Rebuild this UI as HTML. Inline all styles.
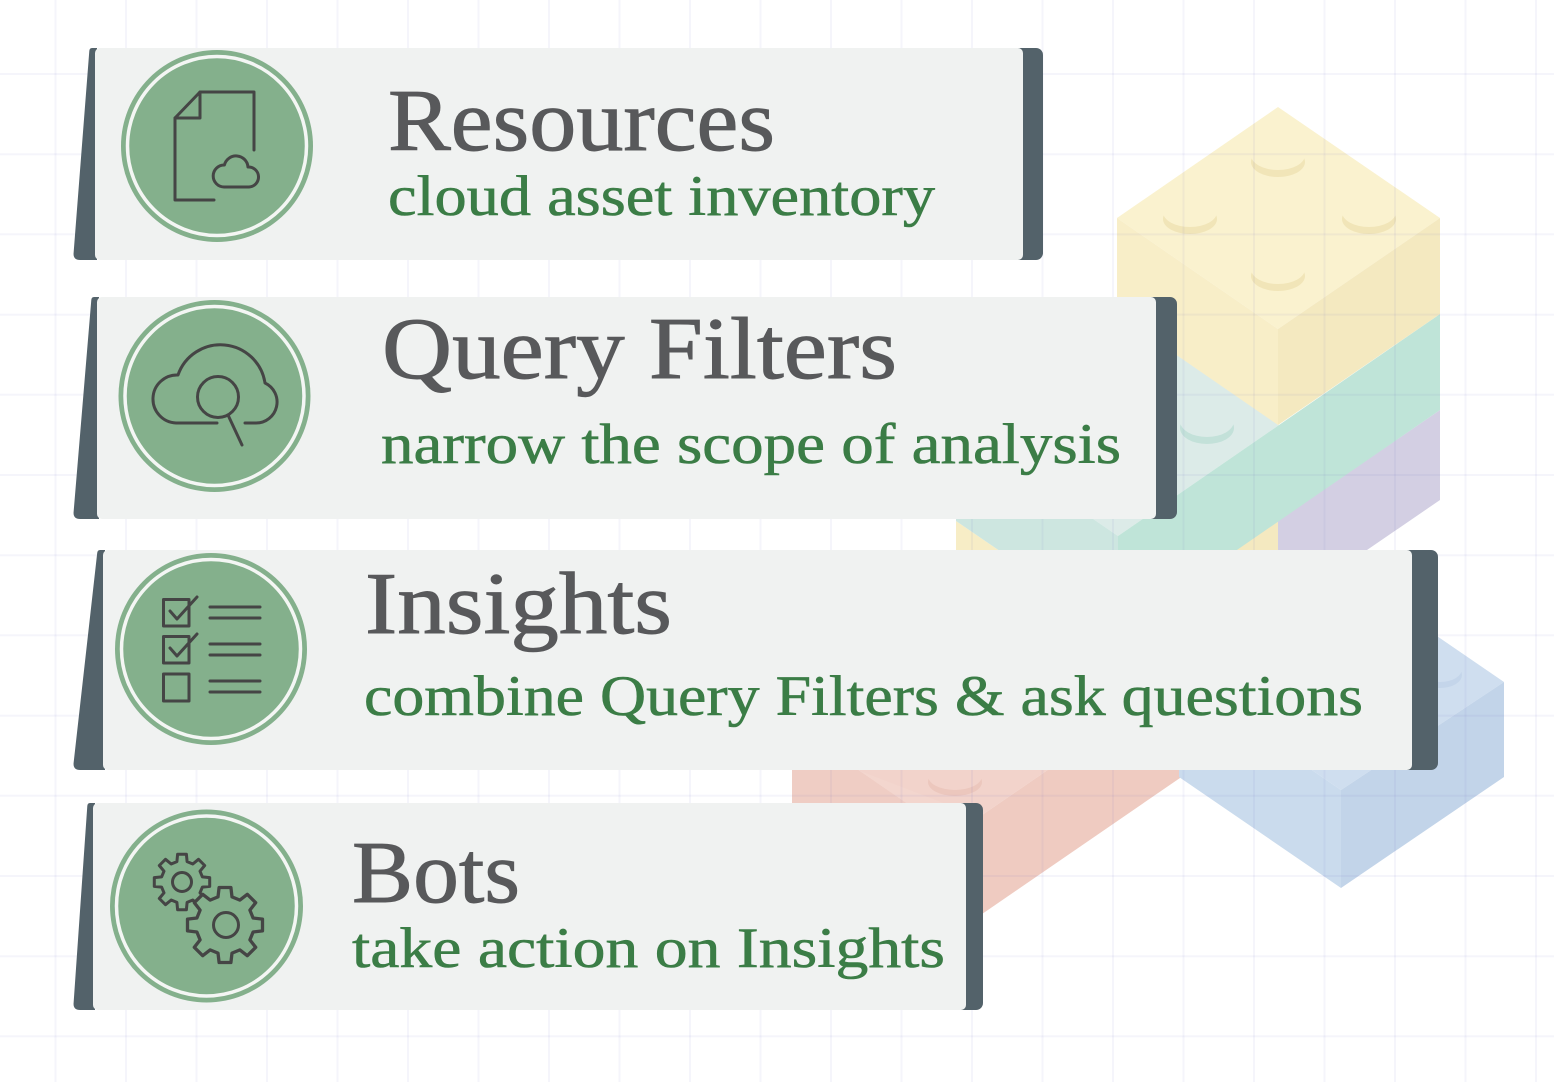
<!DOCTYPE html>
<html>
<head>
<meta charset="utf-8">
<style>
  html,body{margin:0;padding:0;background:#ffffff;}
  body{width:1554px;height:1082px;overflow:hidden;}
  svg{display:block;}
  .t{font-family:"Liberation Serif","DejaVu Serif",serif;fill:#58595b;stroke:#58595b;stroke-width:0.9px;font-size:88px;}
  .s{font-family:"Liberation Serif","DejaVu Serif",serif;fill:#3b7d46;stroke:#3b7d46;stroke-width:0.6px;font-size:57px;}
  .ic{fill:none;stroke:#454545;stroke-width:3;stroke-linecap:round;stroke-linejoin:round;}
</style>
</head>
<body>
<svg width="1554" height="1082" viewBox="0 0 1554 1082" xmlns="http://www.w3.org/2000/svg">
  <rect x="0" y="0" width="1554" height="1082" fill="#ffffff"/>

  <!-- ===== Lego bricks ===== -->
  <!-- Salmon brick (back) -->
  <polygon points="1035,557 1196,668 953,835 792,724" fill="#f2d3cb"/>
  <polygon points="792,724 953,835 953,934 792,823" fill="#efcdc4"/>
  <polygon points="953,835 1196,668 1196,767 953,934" fill="#efcbc1"/>
  <polygon points="860,771 953,835 980,817" fill="#f3d6ce"/>
  <ellipse cx="955" cy="782" rx="27" ry="14" fill="#ecc7bd"/>
  <ellipse cx="955" cy="776" rx="27" ry="14" fill="#f2d3cb"/>

  <!-- Blue brick -->
  <polygon points="1342,571 1504,682 1341,790 1179,679" fill="#cfdeef"/>
  <polygon points="1179,679 1341,790 1341,888 1179,777" fill="#cadbed"/>
  <polygon points="1341,790 1504,682 1504,777 1341,888" fill="#c2d4e9"/>
  <ellipse cx="1440" cy="675" rx="22" ry="13" fill="#c4d5ea"/>
  <ellipse cx="1440" cy="669" rx="22" ry="13" fill="#cfdeef"/>

  <!-- Lower layer: yellow (left) + purple (right) -->
  <polygon points="956,521 1118,632 1118,728 956,617" fill="#f7edc6"/>
  <polygon points="1278,521 1278,611 1118,722 1118,632" fill="#f4e9c0"/>
  <polygon points="1440,410 1440,500 1278,611 1278,521" fill="#d3cfe3"/>

  <!-- Teal brick -->
  <polygon points="1117,314 1279,425 1118,536 956,425" fill="#dcebe8"/>
  <polygon points="1440,314 1440,410 1118,632 1118,536" fill="#bfe4d8"/>
  <polygon points="956,425 1118,536 1118,632 956,521" fill="#cde6e0"/>
  <ellipse cx="1207" cy="428" rx="27" ry="16" fill="#c3e1d9"/>
  <ellipse cx="1207" cy="421" rx="27" ry="16" fill="#dcebe8"/>

  <!-- Yellow top brick -->
  <polygon points="1278,107 1440,218 1278,329 1117,218" fill="#faf2cf"/>
  <polygon points="1117,218 1278,329 1278,425 1117,314" fill="#f8eec8"/>
  <polygon points="1278,329 1440,218 1440,314 1278,425" fill="#f4e9c0"/>
  <g>
    <ellipse cx="1278" cy="162" rx="27" ry="15" fill="#f1e5b8"/>
    <ellipse cx="1278" cy="155" rx="27" ry="15" fill="#faf2cf"/>
    <ellipse cx="1190" cy="219" rx="27" ry="15" fill="#f1e5b8"/>
    <ellipse cx="1190" cy="212" rx="27" ry="15" fill="#faf2cf"/>
    <ellipse cx="1369" cy="219" rx="27" ry="15" fill="#f1e5b8"/>
    <ellipse cx="1369" cy="212" rx="27" ry="15" fill="#faf2cf"/>
    <ellipse cx="1278" cy="276" rx="27" ry="15" fill="#f1e5b8"/>
    <ellipse cx="1278" cy="269" rx="27" ry="15" fill="#faf2cf"/>
  </g>

  <!-- ===== Grid ===== -->
  <g stroke="rgba(110,110,200,0.065)" stroke-width="2">
    <line x1="55.5" y1="0" x2="55.5" y2="1082"/>
    <line x1="126" y1="0" x2="126" y2="1082"/>
    <line x1="196.5" y1="0" x2="196.5" y2="1082"/>
    <line x1="267" y1="0" x2="267" y2="1082"/>
    <line x1="337.5" y1="0" x2="337.5" y2="1082"/>
    <line x1="408" y1="0" x2="408" y2="1082"/>
    <line x1="478.5" y1="0" x2="478.5" y2="1082"/>
    <line x1="549" y1="0" x2="549" y2="1082"/>
    <line x1="619.5" y1="0" x2="619.5" y2="1082"/>
    <line x1="690" y1="0" x2="690" y2="1082"/>
    <line x1="760.5" y1="0" x2="760.5" y2="1082"/>
    <line x1="831" y1="0" x2="831" y2="1082"/>
    <line x1="901.5" y1="0" x2="901.5" y2="1082"/>
    <line x1="972" y1="0" x2="972" y2="1082"/>
    <line x1="1042.5" y1="0" x2="1042.5" y2="1082"/>
    <line x1="1113" y1="0" x2="1113" y2="1082"/>
    <line x1="1183.5" y1="0" x2="1183.5" y2="1082"/>
    <line x1="1254" y1="0" x2="1254" y2="1082"/>
    <line x1="1324.5" y1="0" x2="1324.5" y2="1082"/>
    <line x1="1395" y1="0" x2="1395" y2="1082"/>
    <line x1="1465.5" y1="0" x2="1465.5" y2="1082"/>
    <line x1="1536" y1="0" x2="1536" y2="1082"/>
    <line x1="0" y1="74" x2="1554" y2="74"/>
    <line x1="0" y1="154.2" x2="1554" y2="154.2"/>
    <line x1="0" y1="234.4" x2="1554" y2="234.4"/>
    <line x1="0" y1="314.6" x2="1554" y2="314.6"/>
    <line x1="0" y1="394.8" x2="1554" y2="394.8"/>
    <line x1="0" y1="475" x2="1554" y2="475"/>
    <line x1="0" y1="555.2" x2="1554" y2="555.2"/>
    <line x1="0" y1="635.4" x2="1554" y2="635.4"/>
    <line x1="0" y1="715.6" x2="1554" y2="715.6"/>
    <line x1="0" y1="795.8" x2="1554" y2="795.8"/>
    <line x1="0" y1="876" x2="1554" y2="876"/>
    <line x1="0" y1="956.2" x2="1554" y2="956.2"/>
    <line x1="0" y1="1036.4" x2="1554" y2="1036.4"/>
  </g>

  <!-- ===== Box 1: Resources ===== -->
  <rect x="1008" y="48" width="35" height="212" rx="7" fill="#53626a"/>
  <path d="M97,48 L92,48 Q89.5,48 89.3,51 L73.6,253 Q73,260 80,260 L97,260 Z" fill="#53626a"/>
  <rect x="95" y="48" width="928" height="212" rx="5" fill="#f0f2f1"/>
  <circle cx="217" cy="146" r="96" fill="#84b08c"/>
  <circle cx="217" cy="146" r="89.5" fill="none" stroke="#f4f6f4" stroke-width="3.5"/>
  <path class="ic" d="M214,200 H175 V118 L200,92 H254 V150"/>
  <path class="ic" d="M200,92 V118 H175"/>
  <path class="ic" d="M224,187 A11,11 0 1 1 224.4,165 A12,12 0 0 1 248,167 A10,10 0 1 1 249,187 Z"/>
  <text class="t" x="388" y="150" textLength="387" lengthAdjust="spacingAndGlyphs">Resources</text>
  <text class="s" x="388" y="215" textLength="547" lengthAdjust="spacingAndGlyphs">cloud asset inventory</text>

  <!-- ===== Box 2: Query Filters ===== -->
  <rect x="1140" y="297" width="37" height="222" rx="7" fill="#53626a"/>
  <path d="M99,297 L94,297 Q91.5,297 91.3,300 L73.6,512 Q73,519 80,519 L99,519 Z" fill="#53626a"/>
  <rect x="97" y="297" width="1059" height="222" rx="5" fill="#f0f2f1"/>
  <circle cx="214.5" cy="396" r="96" fill="#84b08c"/>
  <circle cx="214.5" cy="396" r="89.5" fill="none" stroke="#f4f6f4" stroke-width="3.5"/>
  <path class="ic" d="M217,423 H176 A24,24 0 1 1 178,375 A45,45 0 0 1 265,383 A21,21 0 0 1 256,423 H245"/>
  <circle class="ic" cx="218" cy="397" r="20.5"/>
  <line class="ic" x1="228" y1="415" x2="242" y2="445"/>
  <text class="t" x="382" y="378" textLength="515" lengthAdjust="spacingAndGlyphs">Query Filters</text>
  <text class="s" x="381" y="463" textLength="740" lengthAdjust="spacingAndGlyphs">narrow the scope of analysis</text>

  <!-- ===== Box 3: Insights ===== -->
  <rect x="1398" y="550" width="40" height="220" rx="7" fill="#53626a"/>
  <path d="M105,550 L100,550 Q97.5,550 97.2,553 L73.6,763 Q73,770 80,770 L105,770 Z" fill="#53626a"/>
  <rect x="103" y="550" width="1309" height="220" rx="5" fill="#f0f2f1"/>
  <circle cx="211" cy="649" r="96" fill="#84b08c"/>
  <circle cx="211" cy="649" r="89.5" fill="none" stroke="#f4f6f4" stroke-width="3.5"/>
  <rect class="ic" x="163.5" y="599.5" width="25.5" height="26.5"/>
  <path class="ic" d="M170,611 L177,619 L197,597"/>
  <rect class="ic" x="163.5" y="636.5" width="25.5" height="26.5"/>
  <path class="ic" d="M170,648 L177,656 L197,634"/>
  <rect class="ic" x="163.5" y="674" width="25.5" height="27"/>
  <line class="ic" x1="210" y1="607" x2="260" y2="607"/>
  <line class="ic" x1="210" y1="618" x2="260" y2="618"/>
  <line class="ic" x1="210" y1="644" x2="260" y2="644"/>
  <line class="ic" x1="210" y1="655" x2="260" y2="655"/>
  <line class="ic" x1="210" y1="681" x2="260" y2="681"/>
  <line class="ic" x1="210" y1="692" x2="260" y2="692"/>
  <text class="t" x="365" y="633" textLength="307" lengthAdjust="spacingAndGlyphs">Insights</text>
  <text class="s" x="364" y="715" textLength="999" lengthAdjust="spacingAndGlyphs">combine Query Filters &amp; ask questions</text>

  <!-- ===== Box 4: Bots ===== -->
  <rect x="952" y="803" width="31" height="207" rx="7" fill="#53626a"/>
  <path d="M95,803 L90,803 Q87.5,803 87.3,806 L73.6,1003 Q73,1010 80,1010 L95,1010 Z" fill="#53626a"/>
  <rect x="93" y="803" width="873" height="207" rx="5" fill="#f0f2f1"/>
  <circle cx="206.5" cy="906" r="96.5" fill="#84b08c"/>
  <circle cx="206.5" cy="906" r="90" fill="none" stroke="#f4f6f4" stroke-width="3.5"/>
  <path class="ic" d="M202.4,876.9 L209.7,877.6 L209.7,886.4 L202.4,887.1 L200.0,892.8 L204.7,898.5 L198.5,904.7 L192.8,900.0 L187.1,902.4 L186.4,909.7 L177.6,909.7 L176.9,902.4 L171.2,900.0 L165.5,904.7 L159.3,898.5 L164.0,892.8 L161.6,887.1 L154.3,886.4 L154.3,877.6 L161.6,876.9 L164.0,871.2 L159.3,865.5 L165.5,859.3 L171.2,864.0 L176.9,861.6 L177.6,854.3 L186.4,854.3 L187.1,861.6 L192.8,864.0 L198.5,859.3 L204.7,865.5 L200.0,871.2 Z"/>
  <circle class="ic" cx="182" cy="882" r="9.5"/>
  <path d="M253.1,918.0 L262.5,919.1 L262.5,930.9 L253.1,932.0 L249.9,939.9 L255.7,947.3 L247.3,955.7 L239.9,949.9 L232.0,953.1 L230.9,962.5 L219.1,962.5 L218.0,953.1 L210.1,949.9 L202.7,955.7 L194.3,947.3 L200.1,939.9 L196.9,932.0 L187.5,930.9 L187.5,919.1 L196.9,918.0 L200.1,910.1 L194.3,902.7 L202.7,894.3 L210.1,900.1 L218.0,896.9 L219.1,887.5 L230.9,887.5 L232.0,896.9 L239.9,900.1 L247.3,894.3 L255.7,902.7 L249.9,910.1 Z" fill="#84b08c" stroke="#454545" stroke-width="3.3" stroke-linejoin="round"/>
  <circle class="ic" cx="226" cy="925" r="12.5" stroke-width="3.3"/>
  <text class="t" x="352" y="902" textLength="168" lengthAdjust="spacingAndGlyphs">Bots</text>
  <text class="s" x="352" y="967" textLength="593" lengthAdjust="spacingAndGlyphs">take action on Insights</text>
</svg>
</body>
</html>
